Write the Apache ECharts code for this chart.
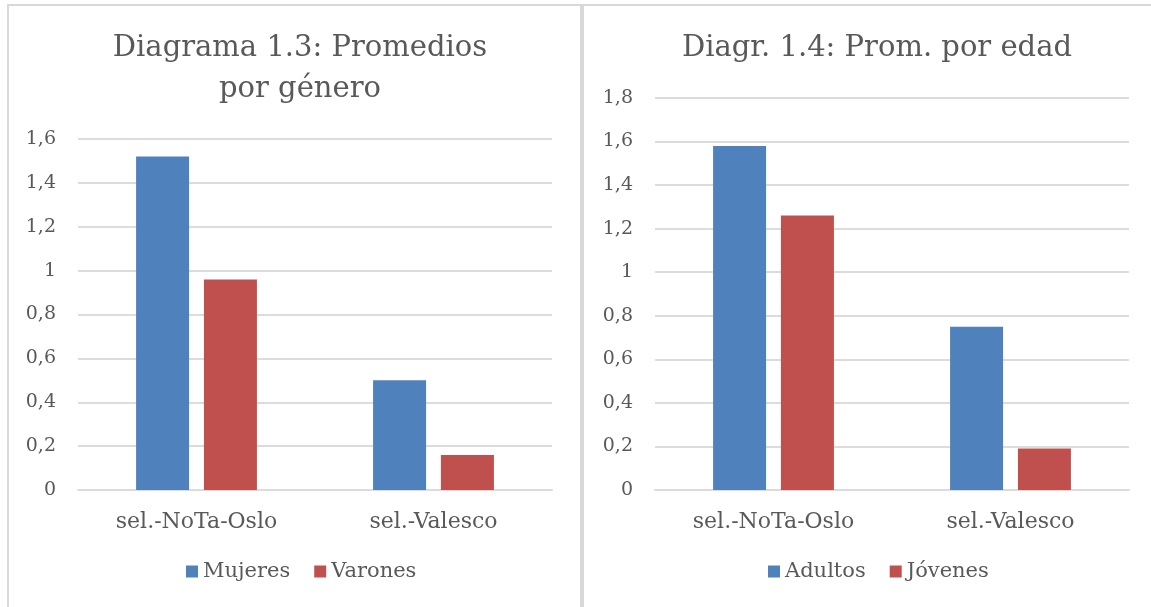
<!DOCTYPE html>
<html>
<head>
<meta charset="utf-8">
<title>Promedios</title>
<script src="https://cdn.jsdelivr.net/npm/echarts@6/dist/echarts.min.js"></script>
<style>
    html, body { margin: 0; padding: 0; background: #fff; overflow: hidden; }
    .panel { position: absolute; border: 2px solid #d9d9d9; box-sizing: border-box; }
    #left { left: 7px; top: 4px; width: 575px; height: 700px; }
    #right { left: 582px; top: 4px; width: 700px; height: 700px; }
    #main { position: absolute; left: 0; top: 0; width: 1151px; height: 607px; }
</style>
</head>
<body>
<div class="panel" id="left"></div>
<div class="panel" id="right"></div>
<div id="main"></div>
<script>
// datos
var categorias = [ 'sel.-NoTa-Oslo', 'sel.-Valesco' ]
var mujeres = [ 1.52, 0.50 ]
var varones = [ 0.96, 0.16 ]
var adultos = [ 1.58, 0.75 ]
var jovenes = [ 1.26, 0.19 ]
var yMax1 = 1.6, yMax2 = 1.8, yPaso = 0.2

var azul = '#4f81bd', rojo = '#c0504d'
var gris = '#595959'
var fuente = 'DejaVu Serif'

var myChart = echarts.init(document.getElementById('main'));

function coma(v) {
    return String(Math.round(v * 10) / 10).replace('.', ',')
}

function ejeY(idx, max) {
    return {
        type : 'value',
        gridIndex : idx,
        min : 0,
        max : max,
        interval : yPaso,
        axisLine : { show : false },
        axisTick : { show : false },
        axisLabel : {
            color : gris,
            fontFamily : fuente,
            fontSize : 19,
            margin : 22,
            formatter : coma
        },
        splitLine : { lineStyle : { color : '#dcdcdc', width : 2 } }
    }
}

function ejeX(idx) {
    return {
        type : 'category',
        gridIndex : idx,
        data : categorias,
        axisLine : { lineStyle : { color : '#dcdcdc', width : 2 } },
        axisTick : { show : false },
        axisLabel : {
            color : gris,
            fontFamily : fuente,
            fontSize : 22,
            margin : 21
        }
    }
}

function barra(nombre, datos, color, idx) {
    return {
        name : nombre,
        type : 'bar',
        xAxisIndex : idx,
        yAxisIndex : idx,
        data : datos,
        barWidth : 53,
        barGap : '28%',
        itemStyle : { color : color },
        silent : true
    }
}

var leyenda = {
    itemWidth : 12,
    itemHeight : 12,
    itemGap : 24,
    padding : 0,
    icon : 'rect',
    textStyle : { color : gris, fontFamily : fuente, fontSize : 21 }
}

option = {
    animation : false,
    title : [ {
        text : 'Diagrama 1.3: Promedios\npor género',
        left : 295,
        top : 23,
        textAlign : 'center',
        textStyle : { color : gris, fontFamily : fuente, fontSize : 29, fontWeight : 'normal', lineHeight : 41 }
    }, {
        text : 'Diagr. 1.4: Prom. por edad',
        left : 872,
        top : 23,
        textAlign : 'center',
        textStyle : { color : gris, fontFamily : fuente, fontSize : 29, fontWeight : 'normal', lineHeight : 41 }
    } ],
    legend : [
        Object.assign({ data : [ 'Mujeres', 'Varones' ], left : 186, top : 561 }, leyenda),
        Object.assign({ data : [ 'Adultos', 'Jóvenes' ], left : 768, top : 561 }, leyenda)
    ],
    grid : [ // posicion de cada grafico
        { left : 78, top : 139, width : 474, height : 351 },
        { left : 655, top : 98, width : 474, height : 392 }
    ],
    xAxis : [ ejeX(0), ejeX(1) ],
    yAxis : [ ejeY(0, yMax1), ejeY(1, yMax2) ],
    series : [
        barra('Mujeres', mujeres, azul, 0),
        barra('Varones', varones, rojo, 0),
        barra('Adultos', adultos, azul, 1),
        barra('Jóvenes', jovenes, rojo, 1)
    ]
};

myChart.setOption(option);
</script>
</body>
</html>
